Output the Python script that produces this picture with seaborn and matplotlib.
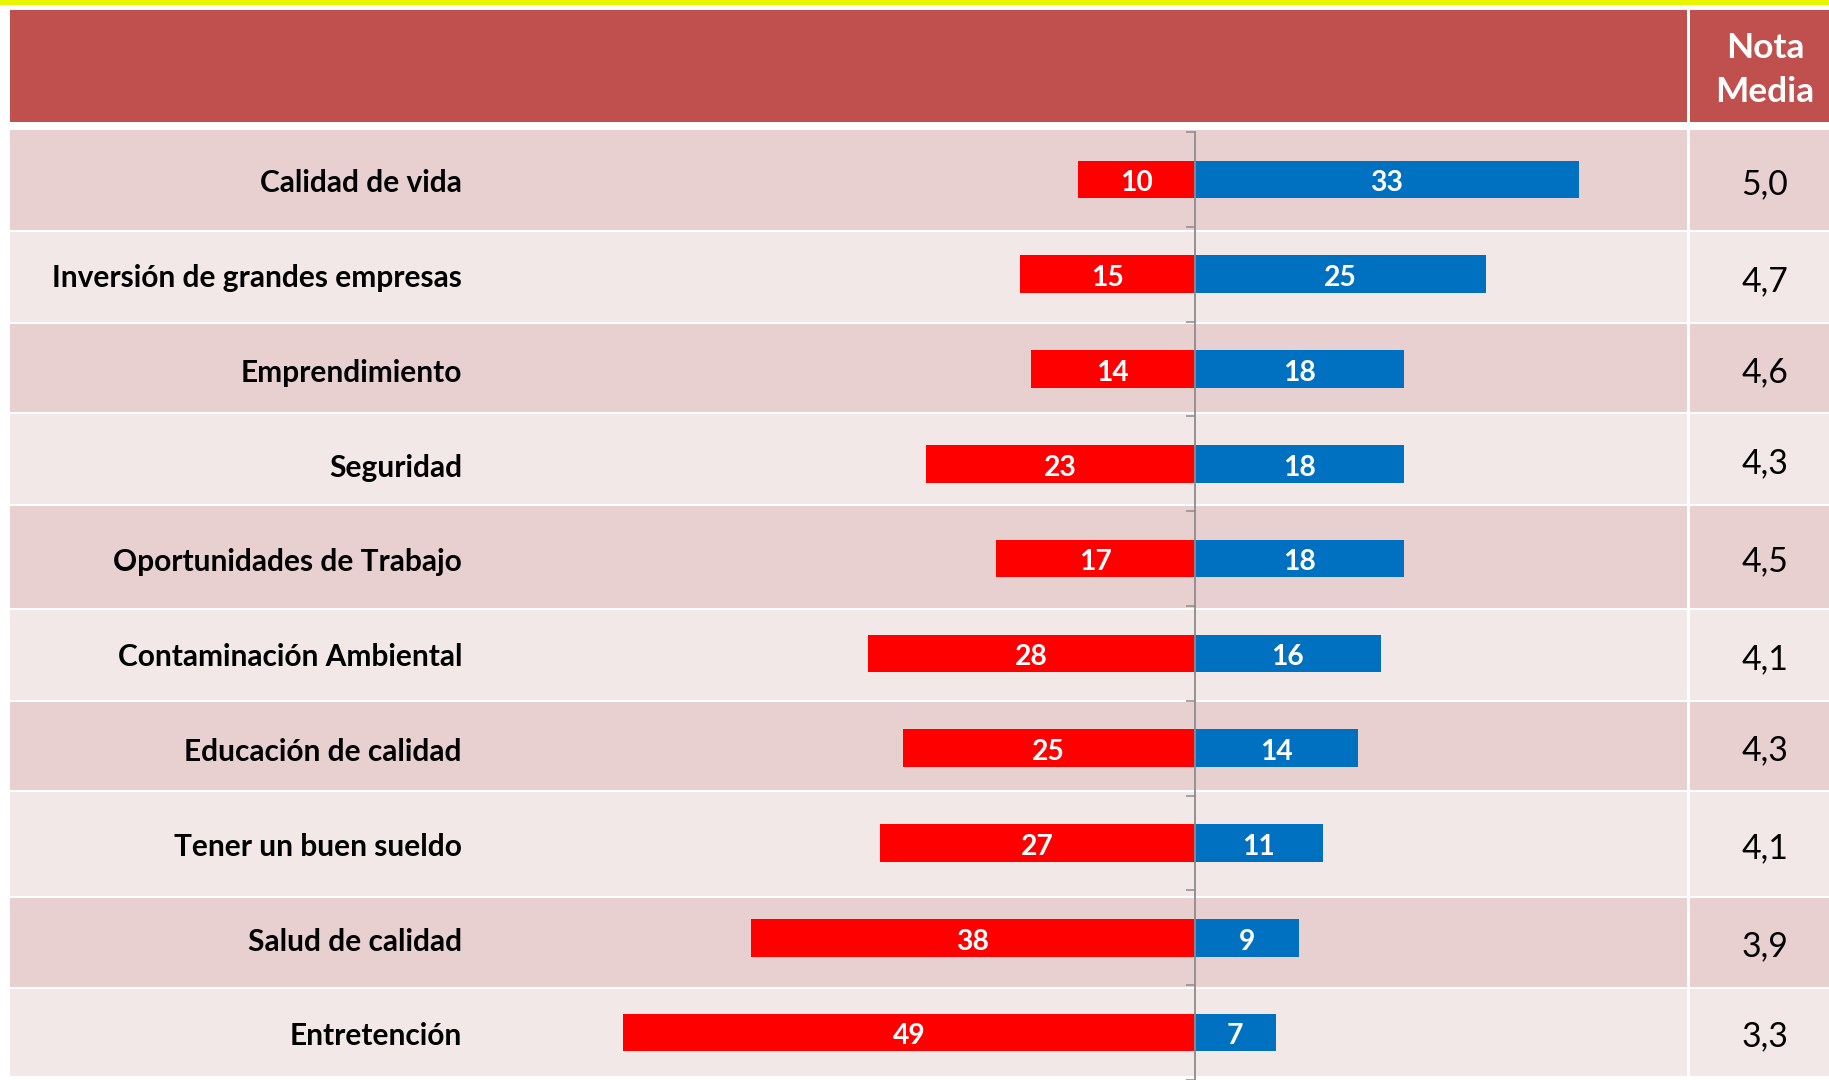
import numpy as np
import pandas as pd
import matplotlib
matplotlib.use("Agg")
import matplotlib.pyplot as plt
import matplotlib.transforms as mtransforms
from matplotlib.font_manager import FontProperties
from matplotlib.patches import Rectangle
import seaborn as sns

# ---------------- data ----------------
categories = ["Calidad de vida", "Inversión de grandes empresas", "Emprendimiento",
              "Seguridad", "Oportunidades de Trabajo", "Contaminación Ambiental",
              "Educación de calidad", "Tener un buen sueldo", "Salud de calidad",
              "Entretención"]
negative = [10, 15, 14, 23, 17, 28, 25, 27, 38, 49]
positive = [33, 25, 18, 18, 18, 16, 14, 11, 9, 7]
nota_media = [5.0, 4.7, 4.6, 4.3, 4.5, 4.1, 4.3, 4.1, 3.9, 3.3]
header_text = "Nota\nMedia"

# ---------------- style / layout ----------------
W, H = 1829, 1080
DPI = 100
FONT = "Lato"
RED = "#FF0000"
BLUE = "#0070C0"
HEADER = "#C0504D"
BAND_DARK = "#E8D0D0"
BAND_LIGHT = "#F2E8E8"
YELLOW = "#E8F500"
AXIS_GREY = "#8C8C8C"

# table row bands (top, bottom) in pixels
row_bands = [(130, 230), (232, 322), (324, 412), (414, 504), (506, 608),
             (610, 700), (702, 790), (792, 896), (898, 987), (989, 1076)]
col_split = 1687       # white gap between the chart column and the "Nota Media" column
table_left = 10
zero_px = 1194.5       # x pixel of the value 0
px_per_unit = 11.66
axis_top = 132
cat_step = 95.3

sns.set_theme(style="white")
plt.rcParams["font.family"] = [FONT, "DejaVu Sans"]

fig = plt.figure(figsize=(W / DPI, H / DPI), dpi=DPI)
fig.patch.set_facecolor("white")
renderer = fig.canvas.get_renderer()


def fit_size(text, target_px, weight="normal"):
    prop = FontProperties(family=FONT, weight=weight, size=20)
    w, h, d = renderer.get_text_width_height_descent(text, prop, ismath=False)
    return 20 * target_px / w


label_size = fit_size("Inversión de grandes empresas", 410, "bold")
value_size = fit_size("10", 33, "bold")
nota_size = fit_size("5,0", 47, "normal")
head_size = fit_size("Media", 99, "bold")

# ---------------- background table ----------------
bg = fig.add_axes([0, 0, 1, 1], zorder=0)
bg.set_xlim(0, W)
bg.set_ylim(H, 0)
bg.axis("off")

bg.add_patch(Rectangle((0, 0), W, 5, color=YELLOW, lw=0))
bg.add_patch(Rectangle((table_left, 10), col_split - table_left, 112, color=HEADER, lw=0))
bg.add_patch(Rectangle((col_split + 3, 10), W - col_split - 3, 112, color=HEADER, lw=0))
for i, (t, b) in enumerate(row_bands):
    c = BAND_DARK if i % 2 == 0 else BAND_LIGHT
    bg.add_patch(Rectangle((table_left, t), col_split - table_left, b - t, color=c, lw=0))
    bg.add_patch(Rectangle((col_split + 3, t), W - col_split - 3, b - t, color=c, lw=0))

col_center = 1765
bg.text(col_center, 48, "Nota", ha="center", va="center", color="white",
        fontsize=head_size, fontweight="bold")
bg.text(col_center, 92, "Media", ha="center", va="center", color="white",
        fontsize=head_size, fontweight="bold")
for (t, b), v in zip(row_bands, nota_media):
    bg.text(col_center, (t + b) / 2 + 4, f"{v:.1f}".replace(".", ","), ha="center",
            va="center", color="black", fontsize=nota_size)

# ---------------- bar chart ----------------
ax_left_px, ax_right_px = 470, 1680
ax_h_px = H - axis_top
ax = fig.add_axes([ax_left_px / W, 0, (ax_right_px - ax_left_px) / W, ax_h_px / H], zorder=2)
ax.patch.set_alpha(0)

df = pd.DataFrame({"cat": categories, "neg": [-v for v in negative], "pos": positive})
sns.barplot(data=df, x="neg", y="cat", orient="h", color=RED, saturation=1,
            width=0.395, ax=ax, linewidth=0)
sns.barplot(data=df, x="pos", y="cat", orient="h", color=BLUE, saturation=1,
            width=0.395, ax=ax, linewidth=0)

ax.set_xlim((ax_left_px - zero_px) / px_per_unit, (ax_right_px - zero_px) / px_per_unit)
ax.set_ylim(-0.5 + ax_h_px / cat_step, -0.5)
ax.set_xlabel("")
ax.set_ylabel("")
ax.set_xticks([])
ax.set_yticks(np.arange(-0.5, len(categories) + 0.5, 1))
ax.set_yticklabels([])
for s in ["top", "right", "bottom"]:
    ax.spines[s].set_visible(False)
ax.spines["left"].set_position(("data", 0))
ax.spines["left"].set_color(AXIS_GREY)
ax.spines["left"].set_linewidth(1.3)
ax.tick_params(axis="y", direction="out", length=6.5, width=1.1, color=AXIS_GREY, left=True)

# category labels (right aligned at a fixed pixel x)
trans = mtransforms.blended_transform_factory(fig.transFigure, ax.transData)
for i, c in enumerate(categories):
    ax.text(462 / W, i + 0.04, c, transform=trans, ha="right", va="center",
            fontsize=label_size, fontweight="bold", color="black", clip_on=False)

# value labels inside bars
for i, (n, p) in enumerate(zip(negative, positive)):
    ax.text(-n / 2, i + 0.04, str(n), ha="center", va="center", color="white",
            fontsize=value_size, fontweight="bold")
    ax.text(p / 2, i + 0.04, str(p), ha="center", va="center", color="white",
            fontsize=value_size, fontweight="bold")

fig.savefig("out.png", dpi=DPI, facecolor="white")
